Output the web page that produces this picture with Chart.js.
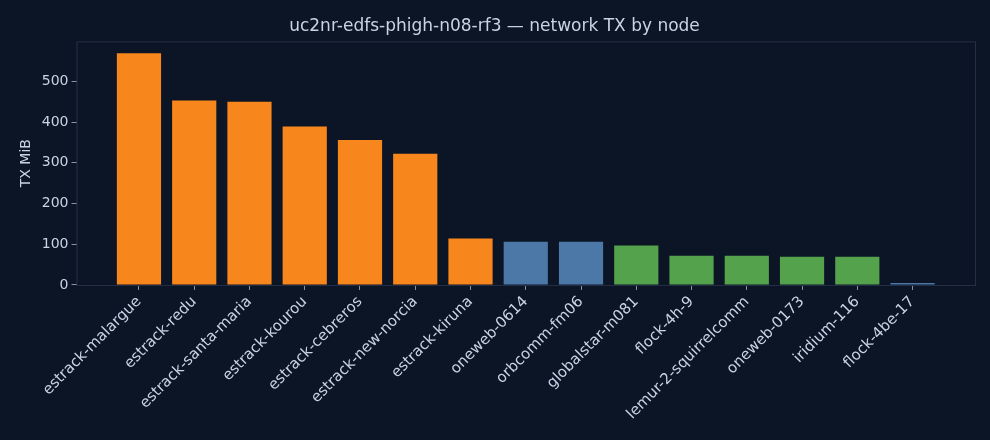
<!DOCTYPE html><html><head><meta charset="utf-8">
<script src="https://cdn.jsdelivr.net/npm/chart.js@4/dist/chart.umd.min.js"></script>
<style>html,body{margin:0;background:#0b1526;}#w{width:990px;height:440px;}</style></head><body><div id="w"><canvas id="c"></canvas></div>
<script>
const nodes=["estrack-malargue","estrack-redu","estrack-santa-maria","estrack-kourou","estrack-cebreros","estrack-new-norcia","estrack-kiruna","oneweb-0614","orbcomm-fm06","globalstar-m081","flock-4h-9","lemur-2-squirrelcomm","oneweb-0173","iridium-116","flock-4be-17"];
const txMiB=[569,453,450,389,356,322,114,106,106,97,72,72,69,69,5];
const groups=["o","o","o","o","o","o","o","b","b","g","g","g","g","g","b"];
const yTicks=[0,100,200,300,400,500];
const colorMap={o:"#f7861c",b:"#4c78a8",g:"#54a24b"};
const txt="#c9d3e3";
const frame={id:'frame',afterDraw(ch){const a=ch.chartArea,c=ch.ctx;c.save();c.strokeStyle="#243047";c.lineWidth=1;c.strokeRect(a.left+0.5,a.top+0.5,a.right-a.left,a.bottom-a.top);c.restore();}};
new Chart(document.getElementById('c'),{type:'bar',
data:{datasets:[{data:txMiB.map((v,i)=>({x:i,y:v})),backgroundColor:groups.map(g=>colorMap[g]),barPercentage:0.8,categoryPercentage:1}]},
options:{responsive:true,maintainAspectRatio:false,animation:false,
layout:{padding:{left:14,right:15,top:0,bottom:14}},
plugins:{legend:{display:false},tooltip:{enabled:false},
title:{display:true,text:"uc2nr-edfs-phigh-n08-rf3 — network TX by node",color:txt,font:{family:"DejaVu Sans",size:17,weight:'normal'},padding:{top:16,bottom:5}}},
scales:{x:{type:'linear',min:-1.13,max:15.13,offset:false,
afterBuildTicks(s){s.ticks=nodes.map((n,i)=>({value:i}));},
ticks:{color:txt,font:{family:"DejaVu Sans",size:15},minRotation:45,maxRotation:45,autoSkip:false,callback:(v)=>nodes[v]},
grid:{display:true,offset:false,drawOnChartArea:false,drawTicks:true,tickLength:5,color:"#8a94a6"},border:{display:false}},
y:{min:0,max:598,
afterBuildTicks(s){s.ticks=yTicks.map(v=>({value:v}));},
ticks:{color:txt,font:{family:"DejaVu Sans",size:14}},
title:{display:true,text:"TX MiB",color:txt,font:{family:"DejaVu Sans",size:14}},
grid:{display:true,offset:false,drawOnChartArea:false,drawTicks:true,tickLength:5,color:"#8a94a6"},border:{display:false}}}},
plugins:[frame]});
</script></body></html>
